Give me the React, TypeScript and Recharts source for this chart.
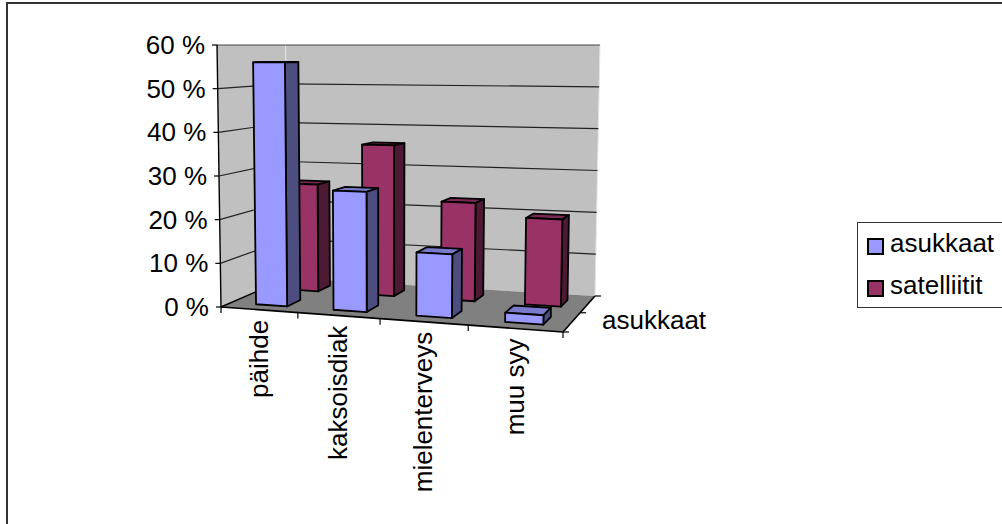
import { Bar, BarChart, XAxis, YAxis } from "recharts";

const categories = ["päihde", "kaksoisdiak", "mielenterveys", "muu syy"];
const asukkaat = [56, 27, 14, 2];
const satelliitit = [26, 36, 23, 20];
const yTicks = [0, 10, 20, 30, 40, 50, 60];
const depthLabel = "asukkaat";
const legendItems = [
  { name: "asukkaat", color: "#9999ff" },
  { name: "satelliitit", color: "#993366" },
];

const data = categories.map((name, i) => ({
  name,
  asukkaat: asukkaat[i],
  satelliitit: satelliitit[i],
}));

const FONT = "'Liberation Sans', Arial, sans-serif";
const FONT_SIZE = 26;

// plot rectangle used by the recharts scales, the shapes project it to 3d
const PLOT = { left: 221, top: 45, width: 342, height: 262 };
const MAX = 60;
const HORIZON = 45;
const BAR_SHIFT = 0.01;

// floor corners on the page
const FL = [221, 307];
const FR = [563, 332];
const BR = [595, 296];
const BL = [288, 278];

function makeFloor() {
  const [x0, y0] = FL;
  const [x1, y1] = FR;
  const [x2, y2] = BR;
  const [x3, y3] = BL;
  const sx = x0 - x1 + x2 - x3;
  const sy = y0 - y1 + y2 - y3;
  const dx1 = x1 - x2;
  const dx2 = x3 - x2;
  const dy1 = y1 - y2;
  const dy2 = y3 - y2;
  const den = dx1 * dy2 - dx2 * dy1;
  const g = (sx * dy2 - dx2 * sy) / den;
  const h = (dx1 * sy - sx * dy1) / den;
  const a = x1 - x0 + g * x1;
  const b = x3 - x0 + h * x3;
  const d = y1 - y0 + g * y1;
  const e = y3 - y0 + h * y3;
  return (u: number, v: number) => {
    const w = g * u + h * v + 1;
    return [(a * u + b * v + x0) / w, (d * u + e * v + y0) / w];
  };
}
const floor = makeFloor();

// u along the categories, depth front to back, both 0..1, value in percent
function project(u: number, depth: number, value: number) {
  const [x, y] = floor(u, depth);
  const t = value / MAX;
  return [x + (x - 387) * 0.024 * t, y + (HORIZON - y) * t];
}

const pts = (list: number[][]) => list.map((p) => p.join(",")).join(" ");

function Box3D(props: any) {
  const { x, width, height, front, side, top, depth } = props;
  const u0 = (x - PLOT.left) / PLOT.width + BAR_SHIFT;
  const u1 = (x + width - PLOT.left) / PLOT.width + BAR_SHIFT;
  const v = (height / PLOT.height) * MAX;
  const [d0, d1] = depth;
  const stroke = { stroke: "#000", strokeWidth: 1.8, strokeLinejoin: "round" as const };
  return (
    <g>
      <polygon
        points={pts([project(u0, d0, v), project(u1, d0, v), project(u1, d1, v), project(u0, d1, v)])}
        fill={top}
        {...stroke}
      />
      <polygon
        points={pts([project(u1, d0, 0), project(u1, d1, 0), project(u1, d1, v), project(u1, d0, v)])}
        fill={side}
        {...stroke}
      />
      <polygon
        points={pts([project(u0, d0, 0), project(u1, d0, 0), project(u1, d0, v), project(u0, d0, v)])}
        fill={front}
        {...stroke}
      />
    </g>
  );
}

function Walls() {
  const line = (a: number[], b: number[], color: string, w = 1.2, key?: string) => (
    <line key={key} x1={a[0]} y1={a[1]} x2={b[0]} y2={b[1]} stroke={color} strokeWidth={w} />
  );
  return (
    <g>
      <polygon
        points={pts([project(0, 0, 0), project(0, 1, 0), project(0, 1, MAX), project(0, 0, MAX)])}
        fill="#c0c0c0"
      />
      <polygon
        points={pts([project(0, 1, 0), project(1, 1, 0), project(1, 1, MAX), project(0, 1, MAX)])}
        fill="#c0c0c0"
      />
      <polygon points={pts([FL, FR, BR, BL])} fill="#808080" />
      {line(project(0, 1, 0), project(0, 1, MAX), "#e4e4e4", 1)}
      {line(project(1, 1, 0), project(1, 1, MAX), "#e4e4e4", 1)}
      {yTicks
        .filter((t) => t > 0)
        .map((t) => (
          <g key={t}>
            {line(project(0, 0, t), project(0, 1, t), t === MAX ? "#444" : "#222")}
            {line(project(0, 1, t), project(1, 1, t), t === MAX ? "#444" : "#222")}
          </g>
        ))}
      {line(project(0, 0, 0), project(0, 0, MAX), "#000", 1.4)}
      {line(FL, BL, "#000", 1.4)}
      {line(FL, FR, "#000", 1.6)}
      {line(FR, BR, "#000", 1.6)}
      {[0, 0.5, 1].map((d) => {
        const p = project(1, d, 0);
        return line(p, [p[0] + 6, p[1]], "#000", 1.2, String(d));
      })}
      <text x={602} y={329} fontFamily={FONT} fontSize={FONT_SIZE} fill="#000">
        {depthLabel}
      </text>
    </g>
  );
}

function YTick({ y, payload }: any) {
  const value = payload.value;
  const [px, py] = project(0, 0, value);
  return (
    <g>
      <line x1={px - 5} y1={py} x2={px} y2={py} stroke="#000" strokeWidth={1.2} />
      <text x={px - 12} y={y} dy="0.35em" textAnchor="end" fontFamily={FONT} fontSize={FONT_SIZE} fill="#000">
        {`${value} %`}
      </text>
    </g>
  );
}

function XTick({ x, payload, index }: any) {
  const band = PLOT.width / categories.length;
  const u0 = (x - band / 2 - PLOT.left) / PLOT.width;
  const u1 = (x + band / 2 - PLOT.left) / PLOT.width;
  const a = project(u0, 0, 0);
  const b = project(u1, 0, 0);
  const cx = (a[0] + b[0]) / 2 - 1;
  const cy = (a[1] + b[1]) / 2 + 10;
  return (
    <g>
      <line x1={a[0]} y1={a[1]} x2={a[0]} y2={a[1] + 6} stroke="#000" strokeWidth={1.2} />
      {index === categories.length - 1 && (
        <line x1={b[0]} y1={b[1]} x2={b[0]} y2={b[1] + 6} stroke="#000" strokeWidth={1.2} />
      )}
      <text
        x={cx}
        y={cy}
        dy="0.35em"
        textAnchor="end"
        transform={`rotate(-90 ${cx} ${cy})`}
        fontFamily={FONT}
        fontSize={FONT_SIZE}
        fill="#000"
      >
        {payload.value}
      </text>
    </g>
  );
}

function ChartLegend() {
  return (
    <div
      style={{
        position: "absolute",
        left: 857,
        top: 222,
        width: 150,
        height: 86,
        border: "1.5px solid #333",
        background: "#fff",
        boxSizing: "border-box",
        fontFamily: FONT,
        fontSize: FONT_SIZE,
        color: "#000",
      }}
    >
      {legendItems.map((item, i) => (
        <div
          key={item.name}
          style={{ position: "absolute", left: 9, top: 5 + i * 42, display: "flex", alignItems: "center", whiteSpace: "nowrap" }}
        >
          <span
            style={{
              display: "inline-block",
              width: 17,
              height: 17,
              marginTop: 6,
              marginRight: 6,
              background: item.color,
              border: "2px solid #000",
              boxSizing: "border-box",
            }}
          />
          {item.name}
        </div>
      ))}
    </div>
  );
}

export default function App() {
  return (
    <div style={{ position: "absolute", left: 0, top: 0, width: 1002, height: 524, overflow: "hidden", background: "#fff" }}>
      <div
        style={{
          position: "absolute",
          left: 6,
          top: 2,
          width: 1100,
          height: 600,
          borderLeft: "2px solid #333",
          borderTop: "2px solid #333",
        }}
      />
      <div style={{ position: "absolute", left: 0, top: 0 }}>
        <BarChart
          width={1002}
          height={524}
          data={data}
          barSize={35}
          barGap={-35}
          margin={{
            left: PLOT.left - 70,
            top: PLOT.top,
            right: 1002 - PLOT.left - PLOT.width,
            bottom: 524 - PLOT.top - PLOT.height - 40,
          }}
        >
          <Walls />
          <XAxis dataKey="name" height={40} axisLine={false} tickLine={false} interval={0} tick={XTick} />
          <YAxis width={70} domain={[0, MAX]} ticks={yTicks} axisLine={false} tickLine={false} tick={YTick} />
          <Bar
            dataKey="satelliitit"
            isAnimationActive={false}
            shape={(p: any) => <Box3D {...p} front="#993366" side="#4d1a33" top="#7a2952" depth={[0.63, 0.83]} />}
          />
          <Bar
            dataKey="asukkaat"
            isAnimationActive={false}
            shape={(p: any) => <Box3D {...p} front="#9999ff" side="#4d4d80" top="#7a7acc" depth={[0.14, 0.34]} />}
          />
        </BarChart>
      </div>
      <ChartLegend />
    </div>
  );
}
